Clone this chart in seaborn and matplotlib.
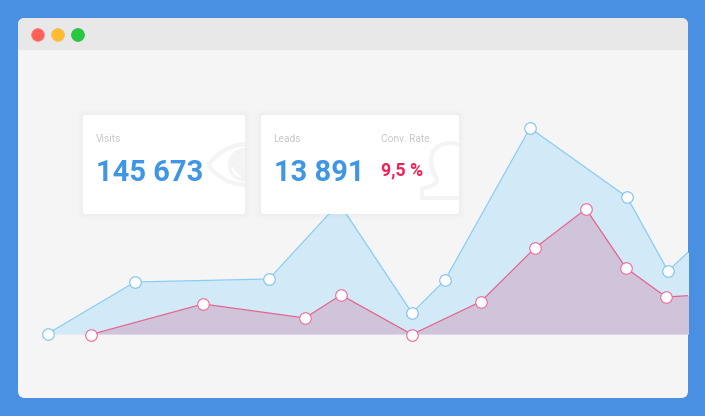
import matplotlib
matplotlib.use("Agg")
import matplotlib.pyplot as plt
import seaborn as sns
from matplotlib.patches import FancyBboxPatch, Rectangle, Circle, PathPatch, Wedge
from matplotlib.path import Path

sns.set_style("white")
plt.rcParams['font.family'] = ['Roboto', 'DejaVu Sans']

# chart data
visits_x = [48, 135, 269, 339, 412, 445, 530, 627, 668, 700]
visits_y = [0.5, 52, 55, 131, 21, 54, 206, 137, 63, 93]
leads_x = [91, 203, 305, 341, 412, 481, 535, 586, 626, 666, 700]
leads_y = [-0.5, 30, 16, 39, -0.5, 32.5, 86, 125, 66, 37, 39]

card_labels = ["Visits", "Leads", "Conv. Rate"]
card_values = ["145 673", "13 891", "9,5 %"]

BG = "#4a90e2"; BODY = "#f5f5f5"; BAR = "#e8e8e8"
BLUE_LINE = "#88cdf6"; BLUE_FILL = "#d2e9f7"; BLUE_EDGE = "#86c3f2"
PINK_LINE = "#e4638f"; PINK_FILL = "#d0c4da"; PINK_EDGE = "#f0719b"
NUM = "#3f97e4"; RED = "#ee2456"; LABEL = "#c8c8c8"; ICON = "#f4f4f4"

W, H = 705, 416
fig = plt.figure(figsize=(W / 100, H / 100), dpi=100, facecolor=BG)


def px_axes(x0, x1, zorder):
    a = fig.add_axes([x0 / W, 0, (x1 - x0) / W, 1], zorder=zorder)
    a.set_xlim(x0, x1)
    a.set_axis_off()
    a.patch.set_alpha(0)
    return a


# window chrome (pixel coordinates)
bg = px_axes(0, W, 0)
bg.set_ylim(H, 0)
win = FancyBboxPatch((24, 24), 658, 368, boxstyle="round,pad=6,rounding_size=7",
                     fc=BODY, ec="none")
bg.add_patch(win)
bar = Rectangle((18, 18), 670, 32, fc=BAR, ec="none")
bg.add_patch(bar)
bar.set_clip_path(win)
for cx, fc, ec in [(38, "#ff5f57", "#f48a85"), (58, "#ffbd2e", "#f0c070"), (78, "#27c93f", "#3cb850")]:
    bg.add_patch(Circle((cx, 35), 6.4, fc=fc, ec=ec, lw=0.6))

# chart
ax = px_axes(18, 688, 1)
ax.set_ylim(-82, 334)
ax.fill_between(visits_x, 0, visits_y, color=BLUE_FILL, lw=0, zorder=1)
ax.fill_between(leads_x, 0, leads_y, color=PINK_FILL, lw=0, zorder=2)
ax.set_autoscale_on(False)
sns.lineplot(x=visits_x, y=visits_y, ax=ax, sort=False, color=BLUE_LINE, lw=0.9,
             marker="o", ms=8.3, mfc="white", mec=BLUE_EDGE, mew=0.85, zorder=3, legend=False)
sns.lineplot(x=leads_x, y=leads_y, ax=ax, sort=False, color=PINK_LINE, lw=0.9,
             marker="o", ms=8.3, mfc="white", mec=PINK_EDGE, mew=0.85, zorder=4, legend=False)
ax.set_xlim(18, 688)
ax.set_ylim(-82, 334)
ax.set_axis_off()

# cards
top = px_axes(0, W, 2)
top.set_ylim(H, 0)


def card(x0, y0, x1, y1):
    for i in range(6, 0, -1):
        top.add_patch(FancyBboxPatch((x0, y0), x1 - x0, y1 - y0,
                                     boxstyle=f"round,pad={i},rounding_size={i + 1}",
                                     fc="#000000", ec="none", alpha=0.005))
    c = FancyBboxPatch((x0 + 1, y0 + 1), x1 - x0 - 2, y1 - y0 - 2,
                       boxstyle="round,pad=1,rounding_size=2", fc="white", ec="none", zorder=2)
    top.add_patch(c)
    return c


c1 = card(83, 115, 245, 214)
c2 = card(261, 115, 459, 214)

# eye watermark
eye = Path([(208, 165), (222, 148), (235, 144), (250, 144), (265, 144), (278, 150), (292, 165),
            (278, 180), (265, 185), (250, 185), (235, 185), (222, 182), (208, 165)],
           [Path.MOVETO] + [Path.CURVE4] * 12)
p = PathPatch(eye, fc="none", ec=ICON, lw=3, zorder=3)
top.add_patch(p); p.set_clip_path(c1)
iris = Circle((245, 165), 17, fc=ICON, ec="none", zorder=3)
top.add_patch(iris); iris.set_clip_path(c1)
hl = Wedge((245, 165), 14, 110, 170, width=2.5, fc="white", ec="none", zorder=4)
top.add_patch(hl); hl.set_clip_path(c1)

# person watermark
person = Path([(470, 198), (422, 198), (422, 190),
               (422, 187), (436, 187), (437, 181),
               (437, 177), (431, 172), (431, 160),
               (431, 148), (442, 143), (450, 143),
               (458, 143), (470, 148), (470, 160)],
              [Path.MOVETO, Path.LINETO, Path.LINETO] + [Path.CURVE4] * 12)
p2 = PathPatch(person, fc="none", ec=ICON, lw=3, zorder=3)
top.add_patch(p2); p2.set_clip_path(c2)

tk = dict(va="baseline", ha="left", zorder=5)
top.text(96, 142, card_labels[0], fontsize=7.4, color=LABEL, **tk)
top.text(273, 142, card_labels[1], fontsize=7.4, color=LABEL, **tk)
top.text(381, 142, card_labels[2], fontsize=7.3, color=LABEL, **tk)
top.text(96, 181, card_values[0], fontsize=21, fontweight="bold", color=NUM, **tk)
top.text(273.5, 181, card_values[1], fontsize=20.9, fontweight="bold", color=NUM, **tk)
top.text(381, 175, card_values[2], fontsize=12.8, fontweight="bold", color=RED, **tk)

fig.savefig("out.png", dpi=100, facecolor=BG)
